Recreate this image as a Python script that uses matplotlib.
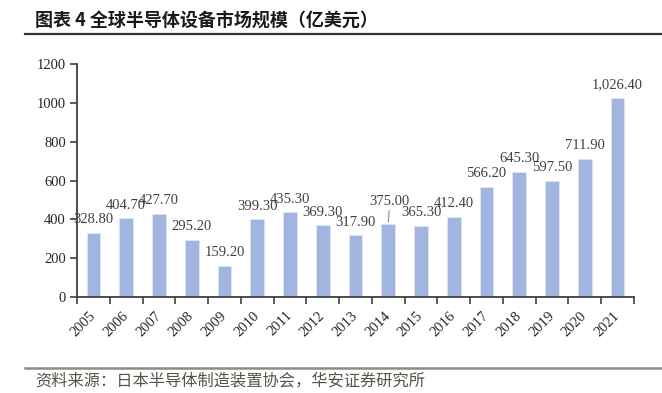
import matplotlib
matplotlib.use("Agg")
import matplotlib.pyplot as plt
from matplotlib.lines import Line2D
from matplotlib.ticker import FixedLocator

years = ["2005", "2006", "2007", "2008", "2009", "2010", "2011", "2012", "2013",
         "2014", "2015", "2016", "2017", "2018", "2019", "2020", "2021"]
values = [328.8, 404.7, 427.7, 295.2, 159.2, 399.3, 435.3, 369.3, 317.9,
          375.0, 365.3, 412.4, 566.2, 645.3, 597.5, 711.9, 1026.4]
yticks = [0, 200, 400, 600, 800, 1000, 1200]
title = "图表 4 全球半导体设备市场规模（亿美元）"
source = "资料来源：日本半导体制造装置协会，华安证券研究所"

serif = ["Liberation Serif", "DejaVu Serif"]
cjk = ["Noto Sans CJK SC", "DejaVu Sans"]

fig = plt.figure(figsize=(6.62, 3.93), dpi=100)
ax = fig.add_axes([77/662, 1-297/393, (634-77)/662, (297-64)/393])

x = list(range(len(years)))
ax.bar(x, values, width=0.42, color="#A2B5E0", edgecolor="#DCE4F4", linewidth=0.6, zorder=2)

ax.set_xlim(-0.5, len(years) - 0.5)
ax.set_ylim(0, 1200)
ax.set_yticks(yticks)
ax.set_yticklabels([str(v) for v in yticks], fontfamily=serif, fontsize=10.5, color="#262626")
ax.set_xticks(x)
ax.set_xticklabels(years, fontfamily=serif, fontsize=10.5, color="#262626",
                   rotation=45, ha="right", va="center", rotation_mode="anchor")
ax.xaxis.set_minor_locator(FixedLocator([i - 0.5 for i in range(len(years) + 1)]))
ax.tick_params(axis="x", which="major", length=0, pad=12)
ax.tick_params(axis="x", which="minor", length=5, width=1.2, color="#404040", direction="out")
ax.tick_params(axis="y", which="major", length=5, width=1.2, color="#404040", direction="out", pad=3)

for s in ["top", "right"]:
    ax.spines[s].set_visible(False)
for s in ["left", "bottom"]:
    ax.spines[s].set_color("#404040")
    ax.spines[s].set_linewidth(1.3)

for i, v in enumerate(values):
    lab = f"{v:,.2f}"
    if years[i] == "2014":
        ax.annotate(lab, xy=(i, v), xytext=(1, 14), textcoords="offset points",
                    ha="center", va="baseline", fontfamily=serif, fontsize=10.5, color="#404040",
                    arrowprops=dict(arrowstyle="-", color="#8c8c8c", lw=0.8, shrinkA=0, shrinkB=1.5))
    else:
        ax.annotate(lab, xy=(i, v), xytext=(0, 7), textcoords="offset points",
                    ha="center", va="baseline", fontfamily=serif, fontsize=10.5, color="#404040")

fig.text(35/662, 1-21/393, title, fontfamily=cjk, fontsize=13, fontweight="bold",
         color="#1a1a1a", ha="left", va="center")
fig.add_artist(Line2D([25/662, 1.0], [1-34/393, 1-34/393], color="#333333", lw=1.6,
                      transform=fig.transFigure))
fig.add_artist(Line2D([25/662, 1.0], [1-368/393, 1-368/393], color="#8c8c8c", lw=1.8,
                      transform=fig.transFigure))
fig.text(35/662, 1-381/393, source, fontfamily=cjk, fontsize=11.7, color="#55554a",
         ha="left", va="center")

fig.savefig("out.png", dpi=100)
